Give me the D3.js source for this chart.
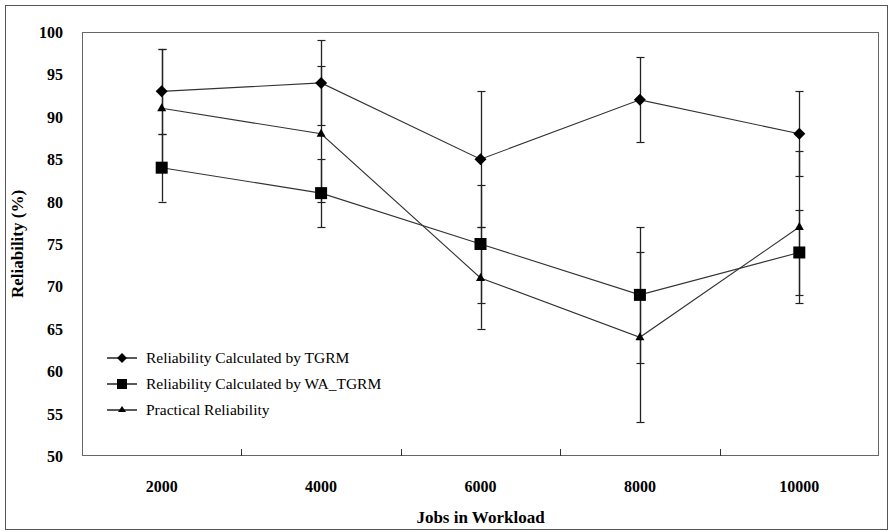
<!DOCTYPE html>
<html><head><meta charset="utf-8">
<script src="https://cdn.jsdelivr.net/npm/d3@7"></script>
<style>body{margin:0;background:#fff}svg{display:block;font-family:"Liberation Serif","Times New Roman",Tinos,"DejaVu Serif",serif}</style>
</head><body>
<svg id="c" width="889" height="531"></svg>
<script>
const categories = ["2000","4000","6000","8000","10000"];
const tgrm = [93, 94, 85, 92, 88];
const tgrmErr = [5, 5, 8, 5, 5];
const waTgrm = [84, 81, 75, 69, 74];
const waTgrmErr = [4, 4, 7, 8, 5];
const practical = [91, 88, 71, 64, 77];
const practicalErr = [7, 8, 6, 10, 9];
const yTicks = [50,55,60,65,70,75,80,85,90,95,100];
const seriesNames = ["Reliability Calculated by TGRM","Reliability Calculated by WA_TGRM","Practical Reliability"];

const svg = d3.select("#c");
const L = 82, T = 32, R = 879, B = 456;
svg.append("rect").attr("x",5.5).attr("y",5.5).attr("width",882).attr("height",524)
  .attr("fill","none").attr("stroke","#555").attr("stroke-width",1);

const x = d3.scaleBand().domain(categories).range([L,R]);
const y = d3.scaleLinear().domain([50,100]).range([B,T]);

svg.append("rect").attr("x",L+0.5).attr("y",T+0.5).attr("width",R-L-1).attr("height",B-T-1)
  .attr("fill","none").attr("stroke","#666").attr("stroke-width",1);

categories.slice(1).forEach(c=>{
  const xx = Math.round(x(c))+0.5;
  svg.append("line").attr("x1",xx).attr("x2",xx).attr("y1",B).attr("y2",B-7).attr("stroke","#333");
});
svg.append("g").selectAll("text").data(yTicks).join("text")
  .attr("x",63).attr("y",d=>y(d)+6).attr("text-anchor","end")
  .attr("font-weight","bold").attr("font-size",16).text(d=>d);
svg.append("g").selectAll("text").data(categories).join("text")
  .attr("x",d=>x(d)+x.bandwidth()/2).attr("y",492).attr("text-anchor","middle")
  .attr("font-weight","bold").attr("font-size",16).text(d=>d);
svg.append("text").attr("x",x(categories[2])+x.bandwidth()/2).attr("y",523).attr("text-anchor","middle")
  .attr("font-weight","bold").attr("font-size",17).text("Jobs in Workload");
svg.append("text").attr("transform","translate(23,"+((T+B)/2)+") rotate(-90)").attr("text-anchor","middle")
  .attr("font-weight","bold").attr("font-size",17).text("Reliability (%)");

const cx = i => x(categories[i]) + x.bandwidth()/2;
const series = [
  {vals:tgrm, err:tgrmErr, shape:"diamond"},
  {vals:waTgrm, err:waTgrmErr, shape:"square"},
  {vals:practical, err:practicalErr, shape:"triangle"}
];
series.forEach(s=>{
  s.vals.forEach((v,i)=>{
    const xx = Math.round(cx(i))+0.5;
    svg.append("line").attr("x1",xx).attr("x2",xx).attr("y1",y(v-s.err[i])).attr("y2",y(v+s.err[i])).attr("stroke","#222").attr("stroke-width",1.3);
    [v-s.err[i], v+s.err[i]].forEach(e=>{
      svg.append("line").attr("x1",xx-4).attr("x2",xx+4).attr("y1",Math.round(y(e))+0.5).attr("y2",Math.round(y(e))+0.5).attr("stroke","#222").attr("stroke-width",1.2);
    });
  });
});
const line = d3.line().x((d,i)=>cx(i)).y(d=>y(d));
series.forEach(s=>{
  svg.append("path").attr("d",line(s.vals)).attr("fill","none").attr("stroke","#333").attr("stroke-width",1.1);
});
function marker(g, shape, px, py){
  if(shape==="diamond") g.append("path").attr("d",`M${px},${py-6}L${px+6},${py}L${px},${py+6}L${px-6},${py}Z`).attr("fill","#000");
  else if(shape==="square") g.append("rect").attr("x",px-6).attr("y",py-6).attr("width",12).attr("height",12).attr("fill","#000");
  else g.append("path").attr("d",`M${px},${py-5}L${px+4.5},${py+3}L${px-4.5},${py+3}Z`).attr("fill","#000");
}
series.forEach(s=>{
  s.vals.forEach((v,i)=>marker(svg, s.shape, cx(i), y(v)));
});
series.forEach((s,k)=>{
  const ly = 358 + k*26;
  svg.append("line").attr("x1",107).attr("x2",137).attr("y1",ly).attr("y2",ly).attr("stroke","#000").attr("stroke-width",1.3);
  const g = svg.append("g");
  if(s.shape==="diamond") g.append("path").attr("d",`M122,${ly-5}L127,${ly}L122,${ly+5}L117,${ly}Z`).attr("fill","#000");
  else if(s.shape==="square") g.append("rect").attr("x",117).attr("y",ly-5).attr("width",10).attr("height",10).attr("fill","#000");
  else g.append("path").attr("d",`M122,${ly-4}L126,${ly+2}L118,${ly+2}Z`).attr("fill","#000");
  svg.append("text").attr("x",146).attr("y",ly+5).attr("font-size",15.5).text(seriesNames[k]);
});
</script>
</body></html>
